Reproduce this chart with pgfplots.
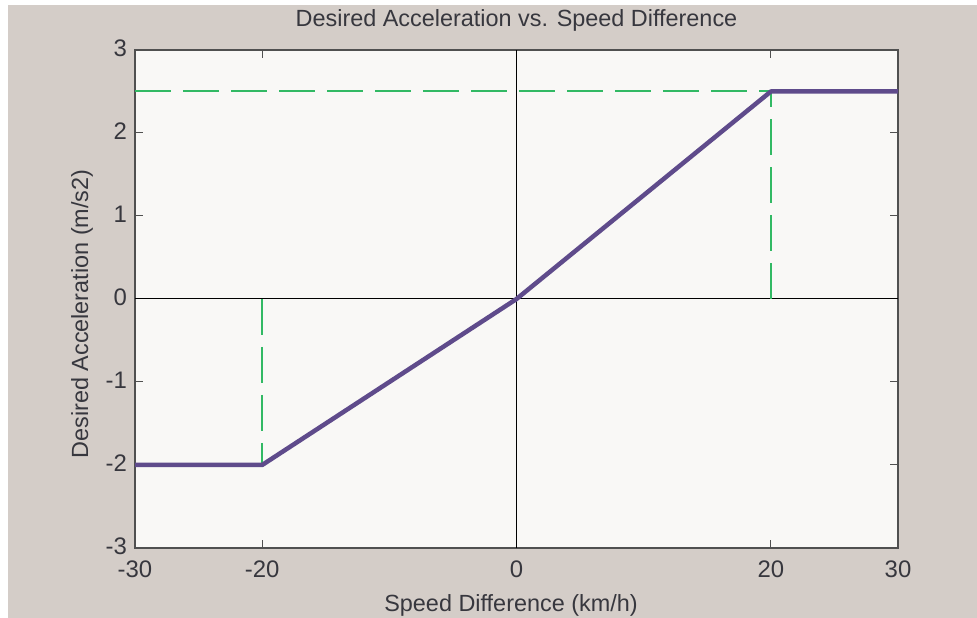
\documentclass[border=0pt]{standalone}
\usepackage{fontspec}
\setmainfont{Liberation Sans}
\usepackage{pgfplots}
\pgfplotsset{compat=1.18}
\definecolor{bgcol}{RGB}{212,205,200}
\definecolor{plotbg}{RGB}{249,248,246}
\definecolor{framecol}{RGB}{80,80,80}
\definecolor{textcol}{RGB}{55,55,62}
\definecolor{curvecol}{RGB}{95,75,139}
\definecolor{dashcol}{RGB}{50,185,100}
\begin{document}
\begin{tikzpicture}[x=1bp,y=1bp]
\fill[white] (0,0) rectangle (977,618);
\fill[bgcol] (8,0) rectangle (977,613);
\useasboundingbox (0,0) rectangle (977,618);
\begin{axis}[
  at={(135bp,70bp)}, anchor=south west,
  scale only axis, width=763bp, height=498bp,
  xmin=-30, xmax=30, ymin=-3, ymax=3,
  xtick={-30,-20,0,20,30}, ytick={-3,-2,-1,0,1,2,3},
  xtick pos=both, ytick pos=both,
  xticklabel pos=lower, yticklabel pos=left,
  tick align=inside, major tick length=8bp,
  axis background/.style={fill=plotbg},
  axis line style={draw=framecol, line width=1.6bp},
  tick style={draw=framecol, line width=1bp},
  /pgf/number format/assume math mode=true,
  ticklabel style={font=\fontsize{24}{28}\selectfont, text=textcol, inner sep=1bp},
  xticklabel style={yshift=-12bp},
  yticklabel style={xshift=-7bp, yshift=2bp},
  clip=false,
]
\addplot[black, line width=1bp] coordinates {(0,-3) (0,3)};
\addplot[black, line width=1bp] coordinates {(-30,0) (30,0)};
\addplot[dashcol, line width=2bp, dash pattern=on 36bp off 12bp] coordinates {(-30,2.5) (20,2.5)};
\addplot[dashcol, line width=2bp, dash pattern=on 36bp off 12bp] coordinates {(20,0) (20,2.5)};
\addplot[dashcol, line width=2bp, dash pattern=on 36bp off 12bp] coordinates {(-20,0) (-20,-2)};
\addplot[curvecol, line width=4.5bp, line join=round] coordinates {(-30,-2) (-20,-2) (0,0) (20,2.5) (30,2.5)};
\end{axis}
\node[anchor=base, text=textcol, font=\fontsize{23.5}{27}\selectfont] at (516.5,591) {Desired Acceleration vs. Speed Difference};
\node[anchor=base, text=textcol, font=\fontsize{23.5}{27}\selectfont] at (511,6) {Speed Difference (km/h)};
\node[anchor=base, rotate=90, text=textcol, font=\fontsize{23.5}{27}\selectfont] at (88,304) {Desired Acceleration (m/s2)};
\end{tikzpicture}
\end{document}
